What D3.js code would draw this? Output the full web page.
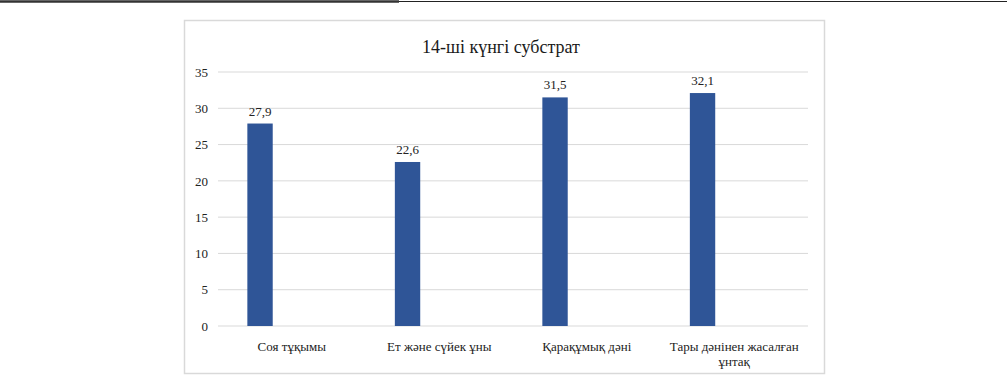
<!DOCTYPE html>
<html>
<head>
<meta charset="utf-8">
<script src="https://cdn.jsdelivr.net/npm/d3@7"></script>
<style>
  body { margin: 0; background: #fff; }
  svg { display: block; font-family: "Liberation Serif", "DejaVu Serif", serif; }
</style>
</head>
<body>
<svg width="1007" height="377"></svg>
<script>
const categories = ["Соя тұқымы", "Ет және сүйек ұны", "Қарақұмық дәні", "Тары дәнінен жасалған ұнтақ"];
const values = [27.9, 22.6, 31.5, 32.1];
const yTicks = [0, 5, 10, 15, 20, 25, 30, 35];
const title = "14-ші күнгі субстрат";

const svg = d3.select("svg");

// page rule at the top
svg.append("line").attr("x1", 0).attr("x2", 1007).attr("y1", 1.5).attr("y2", 1.5)
  .attr("stroke", "#222").attr("stroke-width", 1.2);
svg.append("line").attr("x1", 0).attr("x2", 399).attr("y1", 1.5).attr("y2", 1.5)
  .attr("stroke", "#333").attr("stroke-width", 2.6);

// chart frame
svg.append("rect")
  .attr("x", 184.5).attr("y", 20.5).attr("width", 640).attr("height", 353)
  .attr("fill", "#fff").attr("stroke", "#d9d9d9").attr("stroke-width", 1.5);

svg.append("text")
  .attr("x", 501).attr("y", 53)
  .attr("text-anchor", "middle")
  .attr("font-size", "18px")
  .attr("fill", "#1a1a1a")
  .text(title);

const x = d3.scaleBand().domain(categories).range([218, 808]).padding(0);
const y = d3.scaleLinear().domain([0, 35]).range([326, 72]);

// gridlines
svg.append("g").selectAll("line")
  .data(yTicks)
  .enter()
  .append("line")
  .attr("x1", 218).attr("x2", 808)
  .attr("y1", d => y(d)).attr("y2", d => y(d))
  .attr("stroke", "#d9d9d9").attr("stroke-width", 1);

const yAxis = svg.append("g")
  .attr("transform", "translate(218,0)")
  .call(d3.axisLeft(y).tickValues(yTicks).tickSize(0).tickPadding(10));
yAxis.select(".domain").remove();
yAxis.selectAll("text")
  .attr("font-family", "Liberation Serif, serif")
  .attr("font-size", "13px")
  .attr("fill", "#222");

// bars (offset left inside each category band, as in the original)
const barOff = x.bandwidth() * 0.199;
const barW = x.bandwidth() * 0.172;

svg.selectAll("rect.bar")
  .data(values)
  .enter()
  .append("rect")
  .attr("class", "bar")
  .attr("x", (d, i) => x(categories[i]) + barOff)
  .attr("y", d => y(d))
  .attr("width", barW)
  .attr("height", d => y(0) - y(d))
  .attr("fill", "#2f5597");

svg.selectAll("text.val")
  .data(values)
  .enter()
  .append("text")
  .attr("class", "val")
  .attr("x", (d, i) => x(categories[i]) + barOff + barW / 2)
  .attr("y", d => y(d) - 8)
  .attr("text-anchor", "middle")
  .attr("font-size", "13px")
  .attr("fill", "#222")
  .text(d => String(d).replace(".", ","));

// category labels, wrapped like the original
const catLines = categories.map(c => c === "Тары дәнінен жасалған ұнтақ"
  ? ["Тары дәнінен жасалған", "ұнтақ"] : [c]);

svg.selectAll("text.cat")
  .data(catLines)
  .enter()
  .append("text")
  .attr("class", "cat")
  .attr("text-anchor", "middle")
  .attr("font-size", "13px")
  .attr("fill", "#222")
  .each(function (lines, i) {
    const t = d3.select(this);
    lines.forEach((l, j) => {
      t.append("tspan")
        .attr("x", x(categories[i]) + x.bandwidth() / 2)
        .attr("y", 351 + j * 15)
        .text(l);
    });
  });
</script>
</body>
</html>
